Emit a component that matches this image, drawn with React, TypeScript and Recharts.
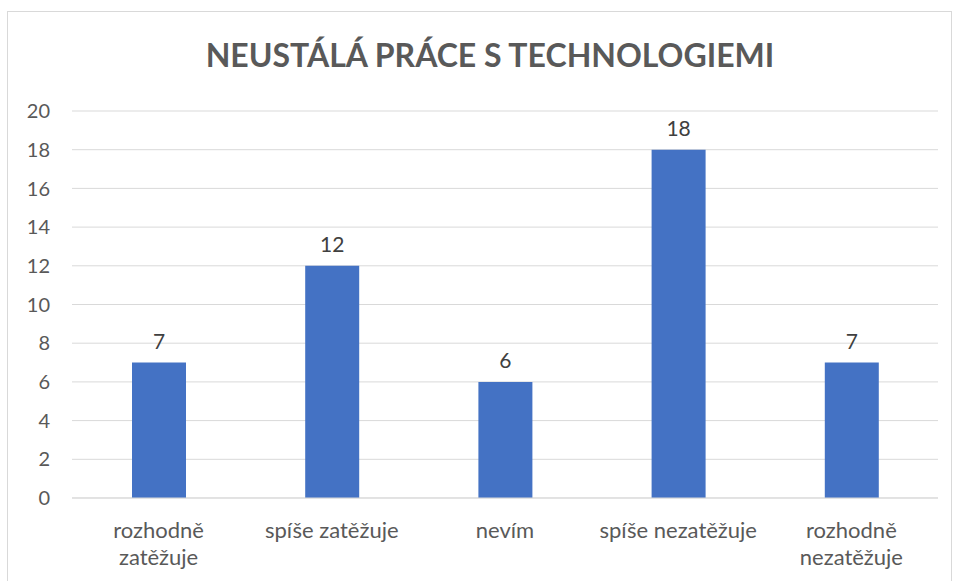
import { BarChart, Bar, XAxis, YAxis, CartesianGrid, LabelList } from 'recharts';

const categories = ['rozhodně zatěžuje', 'spíše zatěžuje', 'nevím', 'spíše nezatěžuje', 'rozhodně nezatěžuje'];
const counts = [7, 12, 6, 18, 7];
const yTicks = [0, 2, 4, 6, 8, 10, 12, 14, 16, 18, 20];

const chartData = categories.map((c, i) => ({ name: c, value: counts[i] }));

const FONT = 'Lato, "Open Sans", sans-serif';

// split the two long labels onto two lines, like the original
function CategoryTick(props: any) {
    const { x, y, payload } = props;
    const label: string = payload.value;
    const lines = label.startsWith('rozhodně') ? label.split(' ') : [label];
    return (
        <text x={x} y={y} textAnchor="middle" fill="#595959" fontSize={22} fontFamily={FONT}>
            {lines.map((l, i) => (
                <tspan key={i} x={x} dy={i === 0 ? 40 : 27}>{l}</tspan>
            ))}
        </text>
    );
}

export default function App() {
    return (
        <div style={{ position: 'fixed', left: 0, top: 0, width: 954, height: 581, overflow: 'hidden', background: '#fff' }}>
            <div style={{
                position: 'absolute', left: 7, top: 11, width: 945, height: 600,
                border: '1px solid #d9d9d9', boxSizing: 'border-box'
            }}>
                <div style={{
                    position: 'absolute', left: 0, top: 23, width: 964, textAlign: 'center',
                    fontFamily: FONT, fontWeight: 'bold', fontSize: 32, color: '#595959'
                }}>
                    NEUSTÁLÁ PRÁCE S TECHNOLOGIEMI
                </div>
                <BarChart width={943} height={569} data={chartData}
                    margin={{ top: 99, right: 13, left: 14, bottom: 23 }}>
                    <CartesianGrid vertical={false} stroke="#d9d9d9" />
                    <XAxis dataKey="name" axisLine={{ stroke: '#d9d9d9' }} tickLine={false}
                        tickSize={0} tickMargin={0} height={60} interval={0} tick={<CategoryTick />} />
                    <YAxis domain={[0, 20]} ticks={yTicks} axisLine={false} tickLine={false}
                        tickSize={0} tickMargin={22} width={50}
                        tick={{ fill: '#595959', fontSize: 20, fontFamily: FONT }} />
                    <Bar dataKey="value" fill="#4472C4" barSize={54} isAnimationActive={false}>
                        <LabelList dataKey="value" position="top" offset={14} fill="#404040"
                            fontSize={21} fontFamily={FONT} />
                    </Bar>
                </BarChart>
            </div>
        </div>
    );
}
